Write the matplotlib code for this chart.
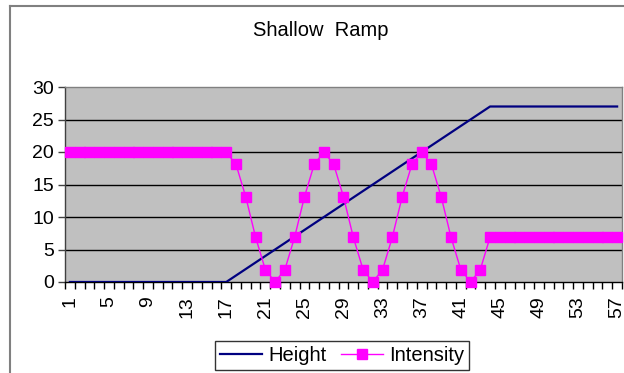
import matplotlib
matplotlib.use("Agg")
import matplotlib.pyplot as plt
from matplotlib.lines import Line2D
from matplotlib.ticker import FixedLocator, NullFormatter

plt.rcParams['font.family'] = ['Liberation Sans', 'DejaVu Sans']

categories = list(range(1, 58))
height = [0]*17 + [1, 2, 3, 4, 5, 6, 7, 8, 9, 10, 11, 12, 13, 14, 15, 16, 17, 18, 19, 20,
                   21, 22, 23, 24, 25, 26, 27] + [27]*13
intensity = ([20]*17 +
             [18.09, 13.09, 6.91, 1.91, 0, 1.91, 6.91, 13.09, 18.09, 20,
              18.09, 13.09, 6.91, 1.91, 0, 1.91, 6.91, 13.09, 18.09, 20,
              18.09, 13.09, 6.91, 1.91, 0, 1.91] + [6.91]*14)
yticks = [0, 5, 10, 15, 20, 25, 30]
xlabels = list(range(1, 58, 4))

W, H = 624, 373
fig = plt.figure(figsize=(W/100, H/100), dpi=100)
ax = fig.add_axes([65/W, (H-282)/H, (622-65)/W, (282-87)/H])
ax.set_facecolor('#C0C0C0')

ax.plot(categories, height, color='#000080', lw=1.6, label='Height', zorder=3)
ax.plot(categories, intensity, color='#FF00FF', lw=1.0, marker='s', markersize=7.5,
        markeredgecolor='#FF00FF', markerfacecolor='#FF00FF', label='Intensity',
        zorder=4, clip_on=False)

ax.set_xlim(0.5, 57.5)
ax.set_ylim(0, 30)
ax.set_yticks(yticks)
ax.set_yticklabels([str(v) for v in yticks], fontsize=14)
for v in yticks[1:-1]:
    ax.axhline(v, color='black', lw=1.0, zorder=1)

ax.set_xticks(xlabels)
ax.set_xticklabels([str(v) for v in xlabels], rotation=90, fontsize=14)
ax.tick_params(axis='x', which='major', length=0, pad=10)
ax.xaxis.set_minor_locator(FixedLocator([i + 0.5 for i in range(0, 58)]))
ax.xaxis.set_minor_formatter(NullFormatter())
ax.tick_params(axis='x', which='minor', length=5, width=1, color='black')
ax.tick_params(axis='y', length=5, width=1, color='#404040', pad=3)

ax.spines['left'].set_color('#404040')
ax.spines['bottom'].set_color('black')
ax.spines['top'].set_color('#808080')
ax.spines['right'].set_color('#808080')
for s in ax.spines.values():
    s.set_linewidth(1.0)

fig.text(321/W, (H-30)/H, 'Shallow  Ramp', ha='center', va='center', fontsize=14.5)

leg = fig.legend(loc='center', bbox_to_anchor=(342/W, (H-355.5)/H), ncol=2,
                 fontsize=14.5, frameon=True, fancybox=False, edgecolor='black',
                 handlelength=2.1, handletextpad=0.3, columnspacing=0.7,
                 borderpad=0.25, borderaxespad=0, markerscale=0.9)
leg.get_frame().set_linewidth(1.0)

fig.add_artist(Line2D([10/W, 1], [(H-5.5)/H, (H-5.5)/H], color='#808080', lw=1.5))
fig.add_artist(Line2D([10/W, 10/W], [0, (H-5.5)/H], color='#808080', lw=1.5))

fig.savefig('out.png', dpi=100)
